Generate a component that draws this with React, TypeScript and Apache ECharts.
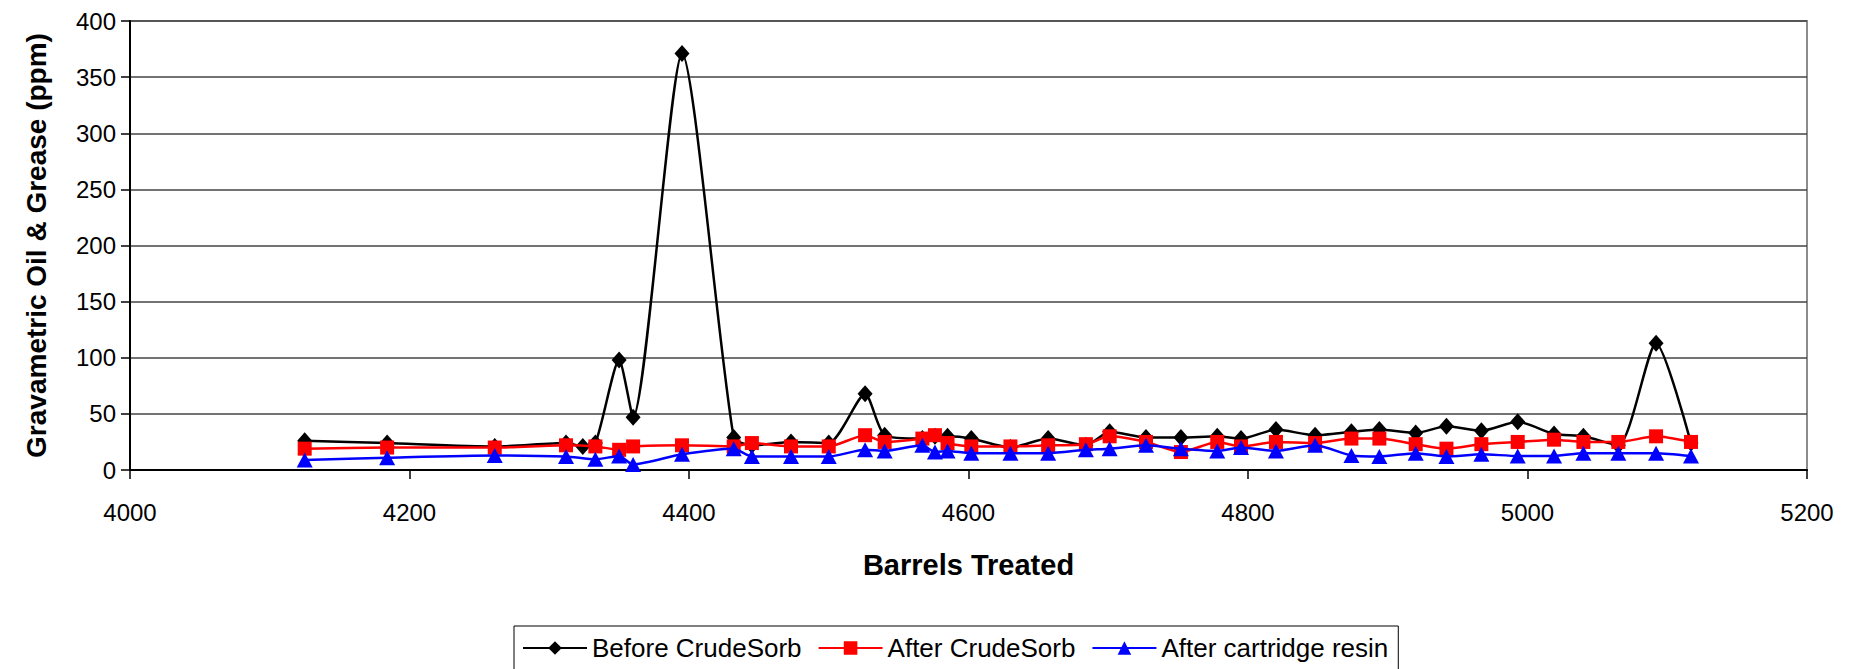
import React, { useEffect, useRef } from "react";
import * as echarts from "echarts";

const beforeX = [4125, 4184, 4261, 4312, 4324, 4333, 4350, 4360, 4395, 4432, 4445, 4473, 4500, 4526, 4540, 4567, 4576, 4585, 4602, 4630, 4657, 4684, 4701, 4727, 4752, 4778, 4795, 4820, 4848, 4874, 4894, 4920, 4942, 4967, 4993, 5019, 5040, 5065, 5092, 5117];
const beforeY = [26, 24, 21, 24, 21, 24, 98, 47, 371, 29, 22, 25, 24, 68, 31, 28, 30, 30, 28, 20, 28, 22, 34, 29, 29, 30, 28, 36, 31, 34, 36, 33, 39, 35, 43, 32, 30, 22, 113, 24];

const afterX = [4125, 4184, 4261, 4312, 4333, 4350, 4360, 4395, 4432, 4445, 4473, 4500, 4526, 4540, 4567, 4576, 4585, 4602, 4630, 4657, 4684, 4701, 4727, 4752, 4778, 4795, 4820, 4848, 4874, 4894, 4920, 4942, 4967, 4993, 5019, 5040, 5065, 5092, 5117];
const afterY = [19, 20, 20, 22, 21, 18, 21, 22, 21, 24, 21, 21, 31, 25, 28, 31, 24, 21, 21, 22, 23, 30, 25, 16, 25, 21, 25, 24, 28, 28, 23, 19, 23, 25, 27, 25, 25, 30, 25];

const resinX = afterX;
const resinY = [9, 11, 13, 12, 9.5, 12.5, 5, 14, 19, 12, 12, 12, 18, 17, 22, 16, 17, 15, 15, 15, 18, 19, 22, 19, 17, 20, 17, 22, 13, 12, 15, 12, 14, 12.5, 12.5, 15, 15, 15, 12.5];

const xTicks = { min: 4000, max: 5200, interval: 200 };
const yTicks = { min: 0, max: 400, interval: 50 };

const seriesNames = ["Before CrudeSorb", "After CrudeSorb", "After cartridge resin"];

function pairs(xs: number[], ys: number[]) {
  return xs.map((x, i) => [x, ys[i]]);
}

export default function App() {
  const ref = useRef<HTMLDivElement>(null);
  useEffect(() => {
    if (!ref.current) return;
    const chart = echarts.init(ref.current, undefined, { renderer: "svg" });
    const font = "Liberation Sans, Arial, sans-serif";
    chart.setOption({
      animation: false,
      backgroundColor: "#ffffff",
      textStyle: { fontFamily: font },
      grid: {
        left: 130,
        right: 45,
        top: 21,
        bottom: 199,
        show: true,
        borderColor: "#8c8c8c",
        borderWidth: 2,
      },
      legend: {
        left: 514,
        top: 626,
        borderColor: "#000",
        borderWidth: 1,
        padding: [9, 10, 9, 8],
        itemGap: 16,
        itemWidth: 64,
        itemHeight: 17,
        textStyle: { fontFamily: font, fontSize: 26, color: "#000" },
        data: seriesNames,
      },
      xAxis: {
        type: "value",
        min: xTicks.min,
        max: xTicks.max,
        interval: xTicks.interval,
        name: "Barrels Treated",
        nameLocation: "middle",
        nameGap: 80,
        nameTextStyle: { fontFamily: font, fontSize: 29, fontWeight: "bold", color: "#000" },
        axisLine: { show: true, onZero: false, lineStyle: { color: "#000", width: 2 } },
        axisTick: { show: true, length: 9, lineStyle: { color: "#000", width: 1.5 } },
        axisLabel: { fontFamily: font, fontSize: 24, color: "#000", margin: 30, formatter: (v: number) => String(v) },
        splitLine: { show: false },
      },
      yAxis: {
        type: "value",
        min: yTicks.min,
        max: yTicks.max,
        interval: yTicks.interval,
        name: "Gravametric Oil & Grease (ppm)",
        nameLocation: "middle",
        nameGap: 80,
        nameTextStyle: { fontFamily: font, fontSize: 28, fontWeight: "bold", color: "#000" },
        axisLine: { show: true, lineStyle: { color: "#000", width: 2 } },
        axisTick: { show: true, length: 9, lineStyle: { color: "#000", width: 1.5 } },
        axisLabel: { fontFamily: font, fontSize: 24, color: "#000", margin: 14 },
        splitLine: { show: true, lineStyle: { color: "#444", width: 1.5 } },
      },
      series: [
        {
          name: seriesNames[0],
          type: "line",
          data: pairs(beforeX, beforeY),
          smooth: 0.22,
          symbol: "diamond",
          symbolSize: [15, 17],
          lineStyle: { color: "#000", width: 2.5 },
          itemStyle: { color: "#000" },
          z: 3,
        },
        {
          name: seriesNames[1],
          type: "line",
          data: pairs(afterX, afterY),
          smooth: 0.22,
          symbol: "rect",
          symbolSize: [14, 14],
          lineStyle: { color: "#ff0000", width: 2.5 },
          itemStyle: { color: "#ff0000" },
          z: 4,
        },
        {
          name: seriesNames[2],
          type: "line",
          data: pairs(resinX, resinY),
          smooth: 0.22,
          symbol: "triangle",
          symbolSize: [16, 15],
          lineStyle: { color: "#0000ff", width: 2.5 },
          itemStyle: { color: "#0000ff" },
          z: 5,
        },
      ],
    });
    return () => chart.dispose();
  }, []);
  return (
    <div
      ref={ref}
      style={{ position: "absolute", left: 0, top: 0, width: 1852, height: 669 }}
    />
  );
}
